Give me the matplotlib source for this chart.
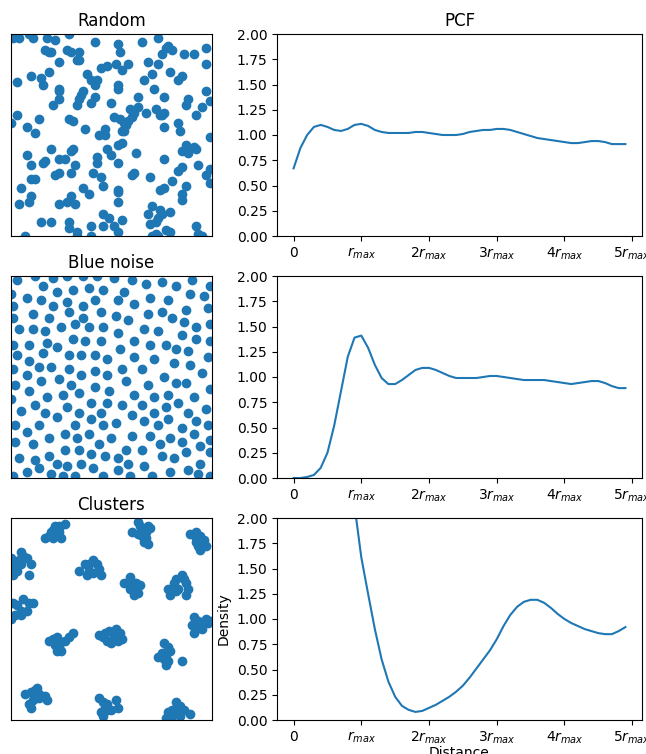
import matplotlib
matplotlib.use("Agg")
import matplotlib.pyplot as plt
import numpy as np

# --- point sets (unit square) ---
random_x = [0.01, 0.04, 0.09, 0.11, 0.18, 0.22, 0.29, 0.42, 0.53, 0.54, 0.65, 0.73, 0.77, 0.78, 0.80, 0.75,
            0.86, 0.91, 0.97, 0.97, 0.17, 0.19, 0.20, 0.28, 0.30, 0.34, 0.33, 0.34, 0.24, 0.68, 0.73, 0.45,
            0.48, 0.52, 0.55, 0.58, 0.38, 0.19, 0.10, 0.15, 0.16, 0.03, 0.70, 0.79, 0.66, 0.85, 0.83, 0.40,
            0.43, 0.42, 0.53, 0.53, 0.71, 0.97, 0.24, 0.24, 0.36, 0.35, 0.34, 0.33, 0.42, 0.40, 0.24, 0.21,
            0.50, 0.63, 0.76, 0.88, 0.87, 0.95, 0.99, 0.59, 0.61, 0.63, 0.67, 0.60, 0.72, 0.74, 0.76, 0.75,
            0.03, 0.00, 0.08, 0.12, 0.14, 0.29, 0.31, 0.37, 0.51, 0.54, 0.56, 0.58, 0.57, 0.55, 0.47, 0.44,
            0.47, 0.56, 0.76, 0.83, 0.84, 0.92, 0.99,
            0.20, 0.31, 0.30, 0.08, 0.48, 0.50, 0.53, 0.55, 0.62, 0.43, 0.43, 0.53, 0.76, 0.85, 0.87, 0.88,
            0.91, 0.92, 0.10, 0.16, 0.17, 0.24, 0.27, 0.32, 0.30, 0.22, 0.24, 0.41, 0.45, 0.46, 0.61, 0.60,
            0.69, 0.83, 0.85, 0.93, 0.99, 0.97, 0.99, 0.80, 0.10, 0.12, 0.05, 0.10, 0.09, 0.04, 0.24, 0.28,
            0.30, 0.32, 0.36, 0.39, 0.53, 0.53, 0.53, 0.74, 0.76, 0.87, 0.85, 0.85, 0.70, 0.68, 0.74, 0.75,
            0.73, 0.72, 0.69, 0.79, 0.46, 0.49, 0.51, 0.55, 0.53, 0.15, 0.20, 0.29, 0.29, 0.33, 0.40, 0.46,
            0.77, 0.79, 0.92, 0.93, 0.95, 0.07, 0.33, 0.40, 0.70, 0.72, 0.73]
random_y = [0.98, 0.98, 1.00, 0.98, 0.98, 0.97, 1.00, 0.96, 0.95, 0.91, 0.96, 0.98, 0.93, 0.94, 0.92, 0.90,
            0.90, 0.90, 0.93, 0.85, 0.92, 0.91, 0.91, 0.92, 0.91, 0.91, 0.87, 0.87, 0.86, 0.86, 0.85, 0.83,
            0.84, 0.85, 0.82, 0.85, 0.80, 0.81, 0.79, 0.78, 0.75, 0.76, 0.80, 0.81, 0.77, 0.79, 0.77, 0.77,
            0.77, 0.75, 0.75, 0.73, 0.73, 0.72, 0.73, 0.72, 0.72, 0.70, 0.68, 0.65, 0.69, 0.66, 0.68, 0.65,
            0.66, 0.69, 0.69, 0.68, 0.65, 0.64, 0.67, 0.63, 0.61, 0.64, 0.61, 0.59, 0.63, 0.60, 0.61, 0.60,
            0.60, 0.56, 0.54, 0.51, 0.58, 0.58, 0.57, 0.53, 0.59, 0.58, 0.56, 0.57, 0.55, 0.52, 0.53, 0.50,
            0.50, 0.52, 0.54, 0.56, 0.52, 0.60, 0.49,
            0.43, 0.43, 0.42, 0.40, 0.43, 0.40, 0.45, 0.46, 0.41, 0.39, 0.36, 0.36, 0.38, 0.42, 0.45, 0.41,
            0.44, 0.43, 0.35, 0.36, 0.37, 0.38, 0.38, 0.35, 0.31, 0.30, 0.31, 0.31, 0.29, 0.25, 0.31, 0.30,
            0.29, 0.32, 0.34, 0.35, 0.33, 0.30, 0.26, 0.27, 0.28, 0.28, 0.24, 0.20, 0.17, 0.16, 0.16, 0.17,
            0.20, 0.16, 0.24, 0.21, 0.23, 0.22, 0.17, 0.23, 0.24, 0.25, 0.21, 0.18, 0.15, 0.11, 0.13, 0.11,
            0.09, 0.07, 0.06, 0.12, 0.11, 0.09, 0.05, 0.08, 0.02, 0.07, 0.07, 0.07, 0.04, 0.02, 0.05, 0.05,
            0.03, 0.02, 0.05, 0.01, 0.00, 0.00, 0.00, 0.00, 0.00, 0.01, 0.00]

blue_x = [0.03, 0.12, 0.21, 0.28, 0.36, 0.43, 0.51, 0.60, 0.67, 0.75, 0.82, 0.90, 0.99, 0.00, 0.16, 0.23,
          0.31, 0.39, 0.46, 0.56, 0.89, 0.96, 0.08, 0.15, 0.21, 0.28, 0.36, 0.42, 0.53, 0.61, 0.69, 0.78,
          0.01, 0.98, 0.11, 0.19, 0.29, 0.36, 0.45, 0.52, 0.58, 0.68, 0.75, 0.80, 0.87, 0.01, 0.04, 0.11,
          0.17, 0.25, 0.32, 0.39, 0.46, 0.53, 0.66, 0.73, 0.85, 0.86, 0.92, 0.99, 0.01, 0.09, 0.18, 0.23,
          0.31, 0.37, 0.45, 0.54, 0.61, 0.69, 0.77, 0.82, 0.88, 0.92, 0.99, 0.03, 0.09, 0.16, 0.29, 0.35,
          0.42, 0.48, 0.61, 0.71, 0.81, 0.89, 0.98, 0.01, 0.08, 0.14, 0.20, 0.29, 0.42, 0.55, 0.65, 0.48,
          0.76, 0.95, 0.24, 0.35,
          0.02, 0.15, 0.30, 0.42, 0.57, 0.68, 0.82, 0.87, 0.99, 0.00, 0.09, 0.18, 0.26, 0.34, 0.49, 0.61,
          0.71, 0.78, 0.91, 0.05, 0.12, 0.17, 0.23, 0.28, 0.34, 0.40, 0.45, 0.48, 0.55, 0.65, 0.71, 0.77,
          0.83, 0.88, 0.97, 0.02, 0.08, 0.14, 0.27, 0.32, 0.40, 0.46, 0.52, 0.60, 0.66, 0.73, 0.78, 0.85,
          0.92, 0.98, 0.02, 0.11, 0.19, 0.33, 0.39, 0.44, 0.50, 0.60, 0.69, 0.74, 0.79, 0.85, 0.91, 0.94,
          0.99, 0.04, 0.12, 0.19, 0.27, 0.34, 0.40, 0.47, 0.53, 0.57, 0.65, 0.75, 0.81, 0.87, 0.99, 0.08,
          0.14, 0.23, 0.28, 0.35, 0.41, 0.53, 0.58, 0.66, 0.79, 0.88, 0.94, 0.01, 0.20, 0.26, 0.32, 0.46,
          0.59, 0.70, 0.93, 0.99]
blue_y = [0.98, 1.00, 0.99, 1.00, 1.00, 1.00, 0.99, 0.98, 0.96, 0.97, 0.95, 0.98, 0.95, 0.91, 0.95, 0.92,
          0.93, 0.94, 0.93, 0.92, 0.91, 0.90, 0.89, 0.88, 0.85, 0.87, 0.85, 0.88, 0.88, 0.86, 0.89, 0.88,
          0.85, 0.84, 0.81, 0.79, 0.82, 0.79, 0.82, 0.80, 0.78, 0.81, 0.82, 0.79, 0.83, 0.79, 0.74, 0.74,
          0.73, 0.75, 0.76, 0.75, 0.75, 0.72, 0.74, 0.73, 0.71, 0.77, 0.75, 0.76, 0.66, 0.66, 0.67, 0.65,
          0.69, 0.68, 0.68, 0.64, 0.68, 0.66, 0.66, 0.64, 0.63, 0.69, 0.68, 0.61, 0.58, 0.62, 0.61, 0.61,
          0.61, 0.59, 0.60, 0.59, 0.57, 0.56, 0.60, 0.54, 0.51, 0.55, 0.55, 0.54, 0.53, 0.54, 0.54, 0.51,
          0.50, 0.52, 0.49, 0.51,
          0.46, 0.48, 0.46, 0.45, 0.48, 0.46, 0.47, 0.47, 0.44, 0.39, 0.43, 0.40, 0.41, 0.42, 0.43, 0.41,
          0.40, 0.41, 0.40, 0.33, 0.36, 0.32, 0.30, 0.35, 0.32, 0.37, 0.32, 0.37, 0.36, 0.36, 0.32, 0.35,
          0.37, 0.32, 0.34, 0.26, 0.23, 0.26, 0.22, 0.26, 0.29, 0.26, 0.27, 0.31, 0.28, 0.26, 0.29, 0.25,
          0.28, 0.26, 0.18, 0.17, 0.20, 0.20, 0.22, 0.17, 0.20, 0.21, 0.21, 0.17, 0.20, 0.18, 0.22, 0.16,
          0.19, 0.10, 0.09, 0.11, 0.14, 0.14, 0.12, 0.11, 0.10, 0.14, 0.14, 0.11, 0.10, 0.13, 0.13, 0.03,
          0.05, 0.07, 0.06, 0.07, 0.05, 0.04, 0.07, 0.06, 0.03, 0.04, 0.07, 0.01, 0.02, 0.01, 0.01, 0.01,
          0.01, 0.01, 0.02, 0.01]

cluster_x = [0.17, 0.19, 0.21, 0.22, 0.24, 0.27, 0.24, 0.23, 0.21, 0.25, 0.24, 0.20,
             0.63, 0.64, 0.68, 0.69, 0.60, 0.63, 0.65, 0.67, 0.66, 0.68, 0.67,
             0.89, 0.92, 0.94, 0.96, 0.97, 0.93, 0.94, 0.92, 0.92, 0.95,
             0.00, 0.02, 0.05, 0.06, 0.08, 0.10, 0.09, 0.05, 0.03, 0.01, 0.00, 0.04,
             0.34, 0.37, 0.38, 0.39, 0.41, 0.43, 0.44, 0.45, 0.39, 0.41,
             0.56, 0.58, 0.59, 0.62, 0.64, 0.63, 0.61, 0.59, 0.60,
             0.78, 0.79, 0.81, 0.82, 0.85, 0.86, 0.87, 0.88, 0.87, 0.83, 0.82,
             0.01, 0.03, 0.06, 0.09, 0.11, 0.08, 0.05, 0.02, 0.00, 0.05,
             0.91, 0.93, 0.96, 0.98, 0.90, 0.92, 0.95, 0.91, 0.97, 0.99,
             0.19, 0.21, 0.23, 0.24, 0.27, 0.29, 0.31, 0.22, 0.23, 0.25, 0.24,
             0.44, 0.46, 0.47, 0.49, 0.52, 0.54, 0.55, 0.53, 0.50, 0.48, 0.51,
             0.76, 0.78, 0.79, 0.75, 0.73, 0.76, 0.78, 0.77, 0.85, 0.77,
             0.07, 0.10, 0.12, 0.13, 0.14, 0.17, 0.18, 0.11, 0.09, 0.10, 0.14,
             0.44, 0.46, 0.48, 0.52, 0.53, 0.50, 0.47, 0.45, 0.46, 0.48,
             0.82, 0.84, 0.86, 0.80, 0.78, 0.80, 0.82, 0.84, 0.89, 0.77]
cluster_y = [0.90, 0.91, 0.94, 0.96, 0.96, 0.97, 0.93, 0.92, 0.90, 0.90, 0.95, 0.93,
             0.98, 0.96, 0.96, 0.95, 0.93, 0.92, 0.91, 0.93, 0.88, 0.87, 0.90,
             0.92, 0.93, 0.91, 0.89, 0.86, 0.86, 0.84, 0.90, 0.88, 0.87,
             0.80, 0.78, 0.83, 0.81, 0.80, 0.77, 0.72, 0.77, 0.74, 0.72, 0.75, 0.79,
             0.74, 0.77, 0.72, 0.77, 0.79, 0.77, 0.75, 0.72, 0.74, 0.73,
             0.68, 0.68, 0.71, 0.68, 0.67, 0.63, 0.62, 0.65, 0.66,
             0.65, 0.62, 0.68, 0.70, 0.72, 0.70, 0.68, 0.65, 0.62, 0.65, 0.64,
             0.58, 0.57, 0.60, 0.58, 0.58, 0.54, 0.54, 0.52, 0.50, 0.52,
             0.51, 0.49, 0.48, 0.48, 0.47, 0.45, 0.45, 0.43, 0.50, 0.49,
             0.39, 0.40, 0.41, 0.39, 0.39, 0.41, 0.43, 0.37, 0.34, 0.34, 0.36,
             0.42, 0.41, 0.43, 0.44, 0.45, 0.43, 0.40, 0.39, 0.38, 0.39, 0.41,
             0.38, 0.36, 0.34, 0.33, 0.31, 0.30, 0.29, 0.27, 0.29, 0.32,
             0.13, 0.14, 0.15, 0.16, 0.13, 0.12, 0.10, 0.10, 0.08, 0.06, 0.11,
             0.11, 0.09, 0.08, 0.10, 0.06, 0.05, 0.06, 0.04, 0.02, 0.05,
             0.09, 0.07, 0.05, 0.05, 0.04, 0.02, 0.03, 0.02, 0.03, 0.01]

# --- pair correlation curves, distance in units of r_max ---
dist = [0.0, 0.1, 0.2, 0.3, 0.4, 0.5, 0.6, 0.7, 0.8, 0.9,
        1.0, 1.1, 1.2, 1.3, 1.4, 1.5, 1.6, 1.7, 1.8, 1.9,
        2.0, 2.1, 2.2, 2.3, 2.4, 2.5, 2.6, 2.7, 2.8, 2.9,
        3.0, 3.1, 3.2, 3.3, 3.4, 3.5, 3.6, 3.7, 3.8, 3.9,
        4.0, 4.1, 4.2, 4.3, 4.4, 4.5, 4.6, 4.7, 4.8, 4.9]
pcf_random = [0.67, 0.87, 1.00, 1.08, 1.10, 1.08, 1.05, 1.04, 1.06, 1.10,
              1.11, 1.09, 1.05, 1.03, 1.02, 1.02, 1.02, 1.02, 1.03, 1.03,
              1.02, 1.01, 1.00, 1.00, 1.00, 1.01, 1.03, 1.04, 1.05, 1.05,
              1.06, 1.06, 1.05, 1.03, 1.01, 0.99, 0.97, 0.96, 0.95, 0.94,
              0.93, 0.92, 0.92, 0.93, 0.94, 0.94, 0.93, 0.91, 0.91, 0.91]
pcf_blue = [0.00, 0.00, 0.01, 0.03, 0.10, 0.25, 0.52, 0.86, 1.20, 1.39,
            1.41, 1.29, 1.12, 0.99, 0.93, 0.93, 0.97, 1.02, 1.07, 1.09,
            1.09, 1.07, 1.04, 1.01, 0.99, 0.99, 0.99, 0.99, 1.00, 1.01,
            1.01, 1.00, 0.99, 0.98, 0.97, 0.97, 0.97, 0.97, 0.96, 0.95,
            0.94, 0.93, 0.94, 0.95, 0.96, 0.96, 0.94, 0.91, 0.89, 0.89]
pcf_clusters = [9.0, 8.0, 7.0, 6.0, 5.2, 4.4, 3.7, 3.1, 2.6, 2.12,
                1.61, 1.25, 0.90, 0.60, 0.38, 0.23, 0.14, 0.10, 0.08, 0.09,
                0.12, 0.15, 0.19, 0.23, 0.28, 0.34, 0.42, 0.51, 0.60, 0.69,
                0.80, 0.93, 1.04, 1.12, 1.17, 1.19, 1.19, 1.16, 1.11, 1.05,
                1.00, 0.96, 0.93, 0.90, 0.88, 0.86, 0.85, 0.85, 0.88, 0.92]

rows = [("Random", random_x, random_y, pcf_random),
        ("Blue noise", blue_x, blue_y, pcf_blue),
        ("Clusters", cluster_x, cluster_y, pcf_clusters)]

tick_pos = [0, 1, 2, 3, 4, 5]
tick_labels = ["0", "$r_{max}$", "$2r_{max}$", "$3r_{max}$", "$4r_{max}$", "$5r_{max}$"]
ytick_pos = [0.0, 0.25, 0.5, 0.75, 1.0, 1.25, 1.5, 1.75, 2.0]

fig = plt.figure(figsize=(6.46, 7.54), dpi=100)
W, H = 646, 754
tops = [34, 276, 518]
for i, (name, px, py, pcf) in enumerate(rows):
    top = tops[i]
    ax_pts = fig.add_axes([11 / W, (H - top - 202) / H, 201 / W, 202 / H])
    ax_pts.scatter(px, py, color="C0")
    ax_pts.set_xlim(0, 1)
    ax_pts.set_ylim(0, 1)
    ax_pts.set_xticks([])
    ax_pts.set_yticks([])
    ax_pts.set_title(name)

    ax_pcf = fig.add_axes([277 / W, (H - top - 202) / H, 365 / W, 202 / H])
    ax_pcf.plot(dist, pcf, color="C0")
    ax_pcf.set_ylim(0, 2)
    ax_pcf.set_yticks(ytick_pos)
    ax_pcf.set_yticklabels([f"{v:.2f}" for v in ytick_pos])
    ax_pcf.set_xticks(tick_pos)
    ax_pcf.set_xticklabels(tick_labels)
    if i == 0:
        ax_pcf.set_title("PCF")
    if i == 2:
        ax_pcf.set_ylabel("Density")
        ax_pcf.set_xlabel("Distance", labelpad=0)

plt.savefig("out.png", dpi=100)
